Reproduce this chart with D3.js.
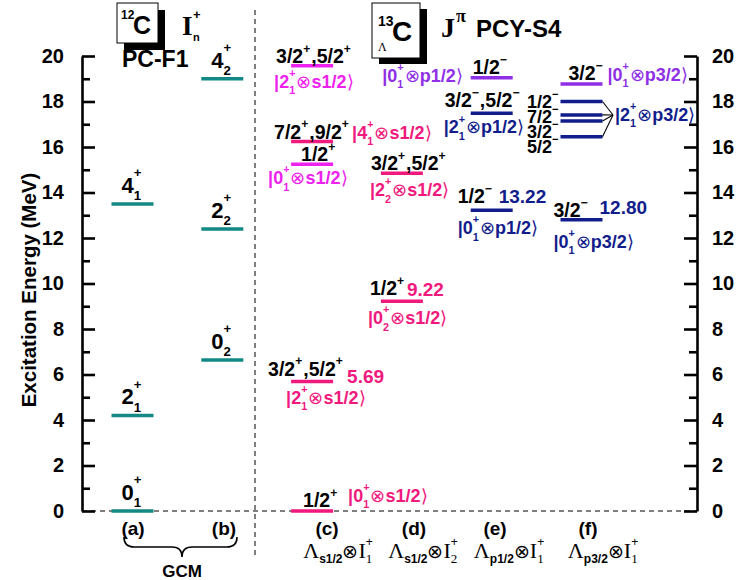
<!DOCTYPE html>
<html>
<head>
<meta charset="utf-8">
<script src="https://cdn.jsdelivr.net/npm/d3@7"></script>
<style>
  html, body { margin: 0; padding: 0; background: #fff; }
  svg { display: block; }
</style>
</head>
<body>
<svg id="chart" width="739" height="580"></svg>
<script>
// ---------- data ----------
const columns = ["(a)", "(b)", "(c)", "(d)", "(e)", "(f)"];
const majorTicks = [0, 2, 4, 6, 8, 10, 12, 14, 16, 18, 20];
const minorTicks = [1, 3, 5, 7, 9, 11, 13, 15, 17, 19];

// 12C core states (GCM, PC-F1)
const coreColumn = ["(a)", "(a)", "(a)", "(b)", "(b)", "(b)"];
const coreEnergy = [0, 4.2, 13.5, 6.64, 12.4, 19.0];
const coreState  = ["0^{+}_{1}", "2^{+}_{1}", "4^{+}_{1}", "0^{+}_{2}", "2^{+}_{2}", "4^{+}_{2}"];

// 13ΛC hypernuclear states (PCY-S4)
const hypColumn = ["(c)", "(c)", "(c)", "(c)", "(c)", "(d)", "(d)", "(e)", "(e)", "(e)", "(f)", "(f)"];
const hypEnergy = [0, 5.69, 15.24, 16.24, 19.57, 9.22, 14.85, 13.22, 17.48, 19.04, 12.80, 18.77];
const hypSpin = ["1/2^{+}", "3/2^{+},5/2^{+}", "1/2^{+}", "7/2^{+},9/2^{+}", "3/2^{+},5/2^{+}",
                 "1/2^{+}", "3/2^{+},5/2^{+}", "1/2^{−}", "3/2^{−},5/2^{−}", "1/2^{−}",
                 "3/2^{−}", "3/2^{−}"];
const hypConfig = ["|0^{+}_{1}⊗s1/2⟩", "|2^{+}_{1}⊗s1/2⟩", "|0^{+}_{1}⊗s1/2⟩", "|4^{+}_{1}⊗s1/2⟩",
                   "|2^{+}_{1}⊗s1/2⟩", "|0^{+}_{2}⊗s1/2⟩", "|2^{+}_{2}⊗s1/2⟩", "|0^{+}_{1}⊗p1/2⟩",
                   "|2^{+}_{1}⊗p1/2⟩", "|0^{+}_{1}⊗p1/2⟩", "|0^{+}_{1}⊗p3/2⟩", "|0^{+}_{1}⊗p3/2⟩"];
const hypValue = ["", "5.69", "", "", "", "9.22", "", "13.22", "", "", "12.80", ""];
const hypGroup = ["s", "s", "s2", "s", "s2", "s", "s", "p", "p", "p2", "p", "p2"];

// |2+1 ⊗ p3/2> multiplet
const multEnergy = [18.0, 17.41, 17.14, 16.45];
const multSpin = ["1/2^{−}", "7/2^{−}", "3/2^{−}", "5/2^{−}"];
const multConfig = "|2^{+}_{1}⊗p3/2⟩";

const bottomSub = ["s1/2", "s1/2", "p1/2", "p3/2"];
const bottomCore = ["1", "2", "1", "1"];

// ---------- styles ----------
const SANS = "'Liberation Sans', Arial, Helvetica, sans-serif";
const SERIF = "'Liberation Serif', 'Times New Roman', serif";
const TEAL = "#128985";
const color = d3.scaleOrdinal()
  .domain(["s", "s2", "p", "p2"])
  .range(["#f0197d", "#ee22ee", "#121d8c", "#8f2fe6"]);

const svg = d3.select("#chart");
const AX_L = 82, AX_R = 697;
const y = d3.scaleLinear().domain([0, 20]).range([511, 56]);
const x = d3.scalePoint().domain(columns).range([132.5, 581.5]);
const HALF = 21;
const SPIN_SIZE = 19.5, KET_SIZE = 18;

// ---------- text helpers ----------
// draw a sequence of text pieces; a piece may be a stack of superscript/subscript
function drawSeq(parent, items, px, py, anchor, fill) {
  const g = parent.append("g").attr("fill", fill);
  let cx = 0;
  const put = (it, xx) => g.append("text")
    .attr("x", xx).attr("y", it.dy || 0)
    .style("font-family", it.family || SANS)
    .style("font-weight", it.weight || "bold")
    .style("font-size", it.size + "px")
    .text(it.t);
  items.forEach(it => {
    if (it.stack) {
      let w = 0;
      it.stack.forEach(s => {
        if (!s) return;
        const t = put(s, cx);
        w = Math.max(w, t.node().getComputedTextLength());
      });
      cx += w + (it.gap || 0);
    } else {
      const t = put(it, cx);
      cx += t.node().getComputedTextLength();
    }
  });
  const shift = anchor === "middle" ? -cx / 2 : anchor === "end" ? -cx : 0;
  g.attr("transform", `translate(${px + shift},${py})`);
  return g;
}

// markup: "3/2^{+}" superscript, "0^{+}_{1}" stacked super/subscript
function rich(parent, str, px, py, o) {
  const size = o.size, sc = o.scale || 0.6;
  const parts = str.split(/(\^\{[^}]*\}|_\{[^}]*\})/).filter(s => s !== "");
  const items = [];
  parts.forEach(p => {
    const m = p.match(/^([\^_])\{([^}]*)\}$/);
    if (m) {
      const key = m[1] === "^" ? 0 : 1;
      const last = items[items.length - 1];
      const piece = { t: m[2], size: size * sc, dy: key === 0 ? o.supDy * size : o.subDy * size };
      if (last && last.stack && !last.stack[key]) last.stack[key] = piece;
      else { const st = { stack: [null, null], gap: 1 }; st.stack[key] = piece; items.push(st); }
    } else {
      // operator and bracket glyphs in a lighter weight
      p.split(/([⊗⟩])/).filter(s => s !== "").forEach(q => {
        const light = q === "⊗" || q === "⟩";
        items.push({ t: q, size: size, family: o.family, weight: light ? "normal" : o.weight });
      });
    }
  });
  return drawSeq(parent, items, px, py, o.anchor || "start", o.fill || "#000");
}

// ---------- axes ----------
function styleAxis(g) {
  g.select(".domain").attr("stroke", "#000").attr("stroke-width", 2.6);
  g.selectAll(".tick line").attr("stroke", "#000").attr("stroke-width", 2.6);
  g.selectAll(".tick text")
    .style("font-family", SANS).style("font-weight", "bold").style("font-size", "20px")
    .attr("fill", "#000");
}

// baseline dashed line at E = 0
svg.append("line")
  .attr("x1", AX_L).attr("x2", AX_R).attr("y1", y(0)).attr("y2", y(0))
  .attr("stroke", "#000").attr("stroke-width", 1).attr("stroke-dasharray", "5,4");

// separator between core and hypernucleus
svg.append("line")
  .attr("x1", 255).attr("x2", 255).attr("y1", 10).attr("y2", 556)
  .attr("stroke", "#000").attr("stroke-width", 1).attr("stroke-dasharray", "5,4");

const gl = svg.append("g").attr("transform", `translate(${AX_L},0)`)
  .call(d3.axisLeft(y).tickValues(majorTicks).tickSizeInner(-13).tickSizeOuter(0).tickPadding(18));
styleAxis(gl);
const glm = svg.append("g").attr("transform", `translate(${AX_L},0)`)
  .call(d3.axisLeft(y).tickValues(minorTicks).tickSizeInner(-8).tickSizeOuter(0).tickFormat(""));
styleAxis(glm); glm.select(".domain").remove();

const gr = svg.append("g").attr("transform", `translate(${AX_R},0)`)
  .call(d3.axisRight(y).tickValues(majorTicks).tickSizeInner(-13).tickSizeOuter(0).tickPadding(15));
styleAxis(gr);
const grm = svg.append("g").attr("transform", `translate(${AX_R},0)`)
  .call(d3.axisRight(y).tickValues(minorTicks).tickSizeInner(-8).tickSizeOuter(0).tickFormat(""));
styleAxis(grm); grm.select(".domain").remove();

svg.append("text")
  .attr("transform", `translate(36,290) rotate(-90)`)
  .attr("text-anchor", "middle")
  .style("font-family", SANS).style("font-weight", "bold").style("font-size", "20.5px")
  .text("Excitation Energy (MeV)");

// ---------- core levels ----------
const core = coreEnergy.map((e, i) => ({ e, col: coreColumn[i], state: coreState[i] }));
svg.append("g").selectAll("line").data(core).join("line")
  .attr("x1", d => x(d.col) - HALF).attr("x2", d => x(d.col) + HALF)
  .attr("y1", d => y(d.e)).attr("y2", d => y(d.e))
  .attr("stroke", TEAL).attr("stroke-width", 3.5);
core.forEach(d => {
  rich(svg, d.state, x(d.col) - HALF + 10, y(d.e) - 11,
    { size: 22, supDy: -0.72, subDy: 0.34, scale: 0.6 });
});

// ---------- hypernuclear levels ----------
const hyp = hypEnergy.map((e, i) => ({
  e, col: hypColumn[i], spin: hypSpin[i], config: hypConfig[i],
  value: hypValue[i], group: hypGroup[i]
}));

// label offsets (dx from line start, dy from line)
const spinOff   = [[12, -4], [-23, -6], [10, -3], [-17, -3], [-15, -3], [-11, -6], [-10, -3],
                   [-13, -7], [-26, -6], [2, -4], [-7, -3], [8, -4]];
const valueOff  = [null, [56, 1], null, null, null, [26, -5], null, [28, -7], null, null, [39, -6], null];
const configOff = [[57, -9, "start"], [-5, 22, "start"], [-23, 20, "start"], [61, -3, "start"],
                   [-17, 22, "start"], [-13, 23, "start"], [-11, 23, "start"], [-13, 24, "start"],
                   [-27, 20, "start"], [-8, 4, "end"], [-7, 28, "start"], [47, -3, "start"]];

svg.append("g").selectAll("line").data(hyp).join("line")
  .attr("x1", d => x(d.col) - HALF).attr("x2", d => x(d.col) + HALF)
  .attr("y1", d => y(d.e)).attr("y2", d => y(d.e))
  .attr("stroke", d => color(d.group)).attr("stroke-width", 3.5);

hyp.forEach((d, i) => {
  const lx = x(d.col) - HALF, ly = y(d.e);
  rich(svg, d.spin, lx + spinOff[i][0], ly + spinOff[i][1],
    { size: SPIN_SIZE, supDy: -0.52, subDy: 0.3, scale: 0.62 });
  if (d.value) {
    svg.append("text")
      .attr("x", lx + valueOff[i][0]).attr("y", ly + valueOff[i][1])
      .attr("fill", d.group.startsWith("s") ? color("s") : color("p"))
      .style("font-family", SANS).style("font-weight", "bold").style("font-size", "19px")
      .text(d.value);
  }
  const c = configOff[i];
  rich(svg, d.config, lx + c[0], ly + c[1],
    { size: KET_SIZE, supDy: -0.6, subDy: 0.36, scale: 0.6, anchor: c[2], fill: color(d.group) });
});

// |2+1 ⊗ p3/2> multiplet with converging connectors
const fx = x("(f)");
svg.append("g").selectAll("line").data(multEnergy).join("line")
  .attr("x1", fx - HALF).attr("x2", fx + HALF)
  .attr("y1", d => y(d)).attr("y2", d => y(d))
  .attr("stroke", color("p")).attr("stroke-width", 3.5);
const join = [613, 115];
svg.append("g").selectAll("line").data(multEnergy).join("line")
  .attr("x1", fx + HALF).attr("y1", d => y(d))
  .attr("x2", join[0]).attr("y2", join[1])
  .attr("stroke", "#000").attr("stroke-width", 1.1);
multSpin.forEach((s, i) => {
  rich(svg, s, fx - HALF - 1, y(multEnergy[0]) + 6 + i * 15,
    { size: 18, supDy: -0.52, subDy: 0.3, scale: 0.62, anchor: "end" });
});
rich(svg, multConfig, join[0] + 2, 121,
  { size: KET_SIZE, supDy: -0.6, subDy: 0.36, scale: 0.6, fill: color("p") });

// ---------- headers ----------
function nucleusBox(bx, by, w, h, off) {
  svg.append("rect").attr("x", bx + off[0]).attr("y", by + off[1]).attr("width", w).attr("height", h)
    .attr("fill", "#000");
  svg.append("rect").attr("x", bx).attr("y", by).attr("width", w).attr("height", h)
    .attr("fill", "#fff").attr("stroke", "#000").attr("stroke-width", 1);
}
function txt(t, tx, ty, size, opt = {}) {
  return svg.append("text").attr("x", tx).attr("y", ty)
    .attr("text-anchor", opt.anchor || "start").attr("fill", opt.fill || "#000")
    .style("font-family", opt.family || SANS)
    .style("font-weight", opt.weight || "bold")
    .style("font-size", size + "px").text(t);
}

nucleusBox(117, 3, 41, 40, [7, 7]);
txt("12", 121, 19, 12);
txt("C", 133, 34, 25);
txt("I", 182, 35, 27, { family: SERIF });
txt("+", 193, 19, 13);
txt("n", 193, 41, 11);
txt("PC-F1", 122, 67, 23);

nucleusBox(372, 3, 48, 55, [7, 6]);
txt("13", 378, 26, 14);
txt("C", 392, 41, 28);
txt("Λ", 378, 51, 12, { family: SERIF, weight: "normal" });
txt("J", 441, 37, 28, { family: SERIF });
txt("π", 456, 22, 18, { family: SERIF });
txt("PCY-S4", 476, 37, 24);

// ---------- bottom labels ----------
const letterX = [133, 224, 327, 414, 495, 588];
columns.forEach((c, i) => txt(c, letterX[i], 535, 19, { anchor: "middle" }));

svg.append("path")
  .attr("d", "M124,537 Q124,547 134,547 L172,547 Q182,547 182,557 Q182,547 192,547 L227,547 Q237,547 237,537")
  .attr("fill", "none").attr("stroke", "#000").attr("stroke-width", 1.6);
txt("GCM", 182, 577, 17, { anchor: "middle" });

const lambdaX = [338, 423, 509, 603];
bottomSub.forEach((s, i) => {
  drawSeq(svg, [
    { t: "Λ", size: 22, family: SERIF, weight: "normal" },
    { t: s, size: 12, dy: 5 },
    { t: "⊗", size: 19, weight: "normal" },
    { t: "I", size: 22, family: SERIF, weight: "normal" },
    { stack: [{ t: "+", size: 12, dy: -12, weight: "normal" },
              { t: bottomCore[i], size: 13, dy: 5, family: SERIF, weight: "normal" }] }
  ], lambdaX[i], 558, "middle", "#000");
});
</script>
</body>
</html>
